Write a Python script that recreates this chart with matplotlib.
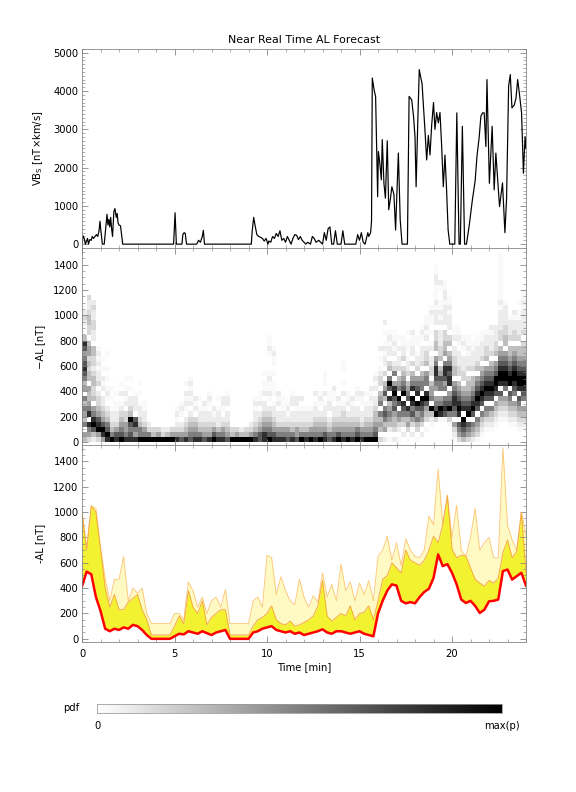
# Near Real Time AL Forecast - three stacked panels + pdf colour bar
import matplotlib
matplotlib.use('Agg')
import matplotlib.pyplot as plt
import numpy as np
from matplotlib.colors import LinearSegmentedColormap, PowerNorm
from matplotlib.ticker import MultipleLocator

plt.rcParams['font.family'] = ['DejaVu Sans']
plt.rcParams['font.size'] = 10

# ---- panel 1: VBs (t in min, value in nT*km/s)
vbs_t = [0.0, 0.05, 0.12, 0.18, 0.3, 0.35, 0.42, 0.5, 0.55, 0.62, 0.7, 0.78, 0.85, 0.92, 0.97, 1.03,
         1.1, 1.2, 1.3, 1.35, 1.4, 1.45, 1.5, 1.55, 1.6, 1.65, 1.72, 1.78, 1.85, 1.9, 1.95, 2.0,
         2.08, 2.2, 4.95, 5.03, 5.1, 5.4, 5.45, 5.52, 5.58, 5.65, 6.2, 6.3, 6.4, 6.5, 6.56, 6.62,
         9.15, 9.2, 9.28, 9.35, 9.45, 9.55, 9.65, 9.75, 9.85, 9.95, 10.05, 10.1, 10.2, 10.3, 10.4,
         10.5, 10.6, 10.7, 10.8, 10.9, 11.0, 11.1, 11.2, 11.3, 11.4, 11.5, 11.6, 11.7, 11.8, 11.9,
         12.0, 12.1, 12.2, 12.35, 12.45, 12.55, 12.65, 12.8, 12.9, 13.0, 13.1, 13.2, 13.3, 13.4,
         13.5, 13.6, 13.7, 13.8, 14.0, 14.1, 14.2, 14.4, 14.8, 14.9, 15.0, 15.1, 15.2, 15.3, 15.35,
         15.45, 15.5, 15.6, 15.65, 15.69, 15.8, 15.87, 15.93, 15.98, 16.02, 16.1, 16.18, 16.23,
         16.32, 16.4, 16.5, 16.58, 16.66, 16.75, 16.86, 16.95, 17.1, 17.2, 17.3, 17.59, 17.68,
         17.82, 17.92, 18.0, 18.06, 18.15, 18.23, 18.3, 18.38, 18.45, 18.54, 18.63, 18.72, 18.81,
         18.9, 19.0, 19.08, 19.17, 19.26, 19.35, 19.44, 19.53, 19.62, 19.7, 19.79, 19.88, 20.15,
         20.26, 20.38, 20.45, 20.56, 20.68, 20.78, 20.92, 21.1, 21.25, 21.35, 21.47, 21.56, 21.65,
         21.74, 21.83, 21.89, 22.02, 22.17, 22.28, 22.37, 22.5, 22.57, 22.73, 22.86, 22.95, 23.06,
         23.15, 23.24, 23.37, 23.46, 23.55, 23.67, 23.76, 23.86, 23.95, 24.0]
vbs_v = [0, 220, 150, 0, 150, 0, 120, 100, 200, 150, 200, 250, 200, 350, 600, 300,
         0, 0, 500, 780, 500, 650, 450, 700, 400, 200, 850, 930, 700, 800, 550, 500,
         480, 0, 0, 820, 0, 0, 250, 300, 280, 0, 0, 100, 50, 200, 360, 0,
         0, 350, 700, 500, 250, 200, 180, 150, 80, 150, 0, 80, 50, 200, 150,
         280, 200, 350, 100, 150, 50, 200, 100, 0, 150, 250, 230, 120, 200, 100,
         50, 0, 50, 0, 200, 150, 50, 100, 50, 0, 300, 100, 400, 450,
         0, 0, 350, 0, 0, 350, 0, 0, 0, 250, 100, 300, 50, 0, 100,
         300, 200, 300, 600, 4340, 4000, 3860, 2380, 1240, 2420, 2110, 1680, 2730,
         1590, 1200, 2700, 900, 1150, 1500, 1300, 370, 2380, 630, 0, 0, 3860,
         3770, 3340, 2800, 1500, 3200, 4560, 4380, 4200, 3660, 2960, 2200, 2840, 2330,
         3100, 3700, 3000, 3440, 3170, 3440, 2570, 1500, 2330, 1500, 370, 0, 0,
         3430, 0, 0, 3080, 0, 0, 450, 1150, 1650, 2300, 2800, 3340, 3430,
         3430, 2550, 4300, 1590, 3080, 1420, 2380, 1460, 980, 1600, 300, 1200, 4130,
         4430, 3560, 3640, 3820, 4300, 3820, 3430, 1850, 2810, 2500]

# ---- panel 2: pdf of -AL, columns of 0.25 min, rows of 40 nT (bottom up), 1..9 = grey level
pdf_cols = [
    "45.645646.54678765784.1232", "3568.865445.44343554.33443223", "2479865.43344323344.22332232",
    "3598754332.32212121", "589754322.212.1.1", "8976432.121.1.1..1",
    "9643221.1.1", "87532211.1", "97654321.2.1", "865533.2121.1", "876794322.1.1", "85687.2221",
    "96643221.1.1", "96532211", "9632", "943", "953", "932", "942", "953",
    "8532121", "7532.121", "85432.1212.1", "765432.212121", "86543.212", "8643221.1",
    "75432212", "854322.121", "9753212", "8642221.1", "86532.122", "754322.221",
    "943", "953", "942", "943", "9532",
    "864322121", "775432.211", "88654322.211.1", "9765432.121121...1211", "87543221.111.1.1121",
    "865322.212", "865322111", "76532121", "864322.221", "755322122", "9643221.2",
    "8643221", "9653221", "86543221.2", "965432.121", "87543221.2.111", "76432.2211",
    "8654322.112", "975432212", "86543321.2.1..11", "965432.211", "865432212", "9764322.121",
    "865322.112", "96543221.1", "96543221212", "976544322.2121",
    "3.4546.654.3321.1.2", "2.54676.4754.3.22121.1.2", "1.2456548.796.43.22121",
    "2.3445767985.632.21211", "1.2356.79.654.322.2.1", ".2.34678.976543.32211",
    "1.35468.7654.3221.11.1", ".2.357689.8654.3.22112", "1.346579.8765.3221.11",
    ".2.356789.6654.3222.121", "..1.345798.665.4332.21211", "...1249.6554.3322.21.1.1121",
    "....39765.5678865.4433.222121112211", "....18965.66754.433222.21211..12",
    "....17876.657886.54433.222212211", "...1369765.8878654.43.2221211",
    "1235.6788765.443322.211", "3567.8987654.33222.1211", "46789.87654.33222.121", "3567.98765443.3221211",
    "2456.79876544.322211", "13456.7898765.4322211", ".12346.78987654.322211", "..12356.7898765.433221",
    "..12346.78987654.322212", "...12345.7899765.433222", "....123457.89987654.33222212111111111.1",
    "....12345.68998765.443322221", "...1234567.99876544.32221", "...12345.6789987654.332212",
    "..1234567.899876544.322211.1", "..12345.678998765443.322221211"]

# ---- panel 3: forecast band every 0.25 min
al_t = np.arange(0, 24.01, 0.25)
al_red = [415, 530, 510, 330, 220, 80, 60, 80, 70, 90, 80, 110, 100, 70, 30, 0, 0, 0, 0, 0,
          20, 40, 35, 60, 50, 40, 60, 45, 30, 50, 60, 70, 0, 0, 0, 0, 0, 50, 60, 80,
          90, 100, 70, 60, 50, 60, 40, 50, 30, 40, 50, 60, 75, 50, 40, 60, 60, 50, 40, 50,
          60, 40, 30, 20, 200, 300, 380, 430, 420, 300, 280, 290, 280, 330, 370, 395, 480, 666, 574, 590,
          521, 430, 310, 283, 300, 260, 204, 230, 296, 300, 310, 534, 547, 468, 495, 521, 420]
al_q_hi = [1000, 700, 1050, 1000, 710, 400, 250, 350, 230, 230, 290, 320, 350, 230, 150, 30, 30, 30, 30, 30,
           100, 180, 120, 380, 250, 200, 300, 110, 170, 200, 230, 230, 30, 30, 30, 30, 30, 100, 150, 170,
           200, 260, 150, 120, 110, 140, 100, 110, 130, 150, 180, 260, 460, 180, 140, 170, 200, 180, 260, 150,
           200, 210, 260, 150, 300, 470, 500, 600, 560, 520, 700, 620, 600, 580, 620, 700, 810, 760, 900, 1130,
           706, 640, 660, 653, 560, 470, 440, 415, 460, 440, 480, 680, 780, 640, 690, 1000, 520]
al_max = [1000, 720, 1050, 1030, 720, 480, 300, 470, 470, 650, 300, 400, 360, 400, 200, 120, 120, 120, 120, 120,
          200, 200, 150, 450, 380, 250, 330, 200, 300, 330, 250, 390, 120, 120, 120, 120, 120, 300, 330, 250,
          660, 640, 350, 490, 380, 300, 270, 470, 330, 250, 340, 290, 520, 330, 430, 300, 590, 380, 450, 300,
          440, 350, 460, 300, 650, 700, 810, 620, 760, 580, 790, 700, 650, 640, 700, 970, 900, 1340, 900, 1135,
          800, 1056, 700, 650, 800, 1030, 700, 760, 800, 640, 640, 1510, 900, 780, 700, 1000, 820]

frame = '0.5'
fig = plt.figure(figsize=(8, 11), dpi=72)

def style(ax, ymajor, yminor):
    ax.set_xlim(0, 24)
    ax.xaxis.set_major_locator(MultipleLocator(5))
    ax.xaxis.set_minor_locator(MultipleLocator(1))
    ax.yaxis.set_major_locator(MultipleLocator(ymajor))
    ax.yaxis.set_minor_locator(MultipleLocator(yminor))
    ax.tick_params(which='both', direction='in', top=True, right=True, color=frame)
    ax.tick_params(which='major', length=6)
    ax.tick_params(which='minor', length=3)
    ax.tick_params(axis='x', pad=7)
    for s in ax.spines.values():
        s.set_color(frame)

ax1 = fig.add_axes([0.1424, 0.6869, 0.7708, 0.2513])
ax1.plot(vbs_t, vbs_v, color='black', lw=1.2)
ax1.set_ylim(-100, 5100)
style(ax1, 1000, 100)
ax1.set_xticklabels([])
ax1.set_ylabel('VB$_\\mathrm{S}$ [nT×km/s]', labelpad=8)
ax1.set_title('Near Real Time AL Forecast', fontsize=11, pad=6)

# pdf grid
nrow = max(len(c) for c in pdf_cols)
grid = np.zeros((nrow, len(pdf_cols)))
for j, col in enumerate(pdf_cols):
    for i, ch in enumerate(col):
        if ch.isdigit():
            grid[i, j] = int(ch)
grid = np.ma.masked_equal(grid, 0)
pdf_cmap = LinearSegmentedColormap.from_list('pdf', ['white', 'black'])

ax2 = fig.add_axes([0.1424, 0.4381, 0.7708, 0.2487])
t_edges = np.arange(len(pdf_cols) + 1) * 0.25
al_edges = np.arange(nrow + 1) * 40
ax2.pcolormesh(t_edges, al_edges, grid, cmap=pdf_cmap, norm=PowerNorm(1.7, vmin=0, vmax=9))
ax2.set_ylim(-25, 1530)
style(ax2, 200, 50)
ax2.set_xticklabels([])
ax2.set_ylabel('−AL [nT]', labelpad=8)

ax3 = fig.add_axes([0.1424, 0.1894, 0.7708, 0.2487])
ax3.fill_between(al_t, al_red, al_max, color='#FFF9C4', lw=0)
ax3.fill_between(al_t, al_red, al_q_hi, color='#F2F230', lw=0)
ax3.plot(al_t, al_max, color='#FCC878', lw=0.9)
ax3.plot(al_t, al_q_hi, color='#F6A640', lw=0.9)
ax3.plot(al_t, al_red, color='red', lw=2.5)
ax3.set_ylim(-25, 1530)
style(ax3, 200, 50)
ax3.set_ylabel('-AL [nT]', labelpad=8)
ax3.set_xlabel('Time [min]', labelpad=3)

# colour bar for the pdf
axc = fig.add_axes([0.1690, 0.1003, 0.7019, 0.0110])
axc.imshow(np.linspace(0, 1, 256)[None, :], aspect='auto', cmap=pdf_cmap, extent=[0, 1, 0, 1])
axc.set_xticks([])
axc.set_yticks([])
for s in axc.spines.values():
    s.set_color('0.6')
    s.set_linewidth(0.8)
fig.text(0.137, 0.106, 'pdf', ha='right', va='center')
fig.text(0.1690, 0.083, '0', ha='center', va='center')
fig.text(0.8709, 0.083, 'max(p)', ha='center', va='center')

fig.savefig('out.png', dpi=72)
